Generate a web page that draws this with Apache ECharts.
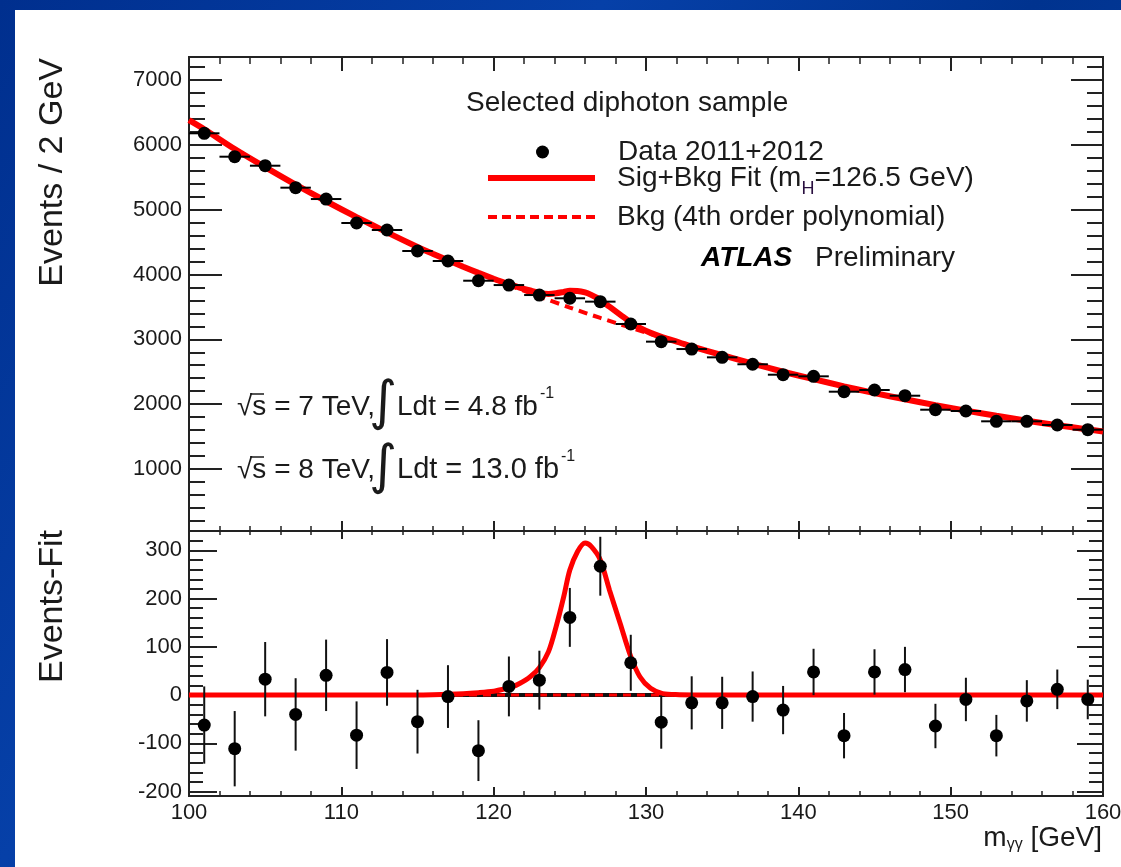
<!DOCTYPE html>
<html>
<head>
<meta charset="utf-8">
<script src="https://cdn.jsdelivr.net/npm/echarts@6/dist/echarts.min.js"></script>
<style>
  html, body { margin: 0; padding: 0; }
  body {
    width: 1121px; height: 867px; overflow: hidden; position: relative;
    background: linear-gradient(125deg, #002f8e 0%, #0640a8 35%, #00338f 60%, #0a44aa 100%);
  }
  #panel { position: absolute; left: 15px; top: 10px; right: 0; bottom: 0; background: #fff; }
  #chart { position: absolute; left: 0; top: 0; width: 1121px; height: 867px; }
</style>
</head>
<body>
<div id="panel"></div>
<div id="chart"></div>
<script>
// ---- data ----
var dataX = [101, 103, 105, 107, 109, 111, 113, 115, 117, 119, 121, 123, 125, 127, 129,
             131, 133, 135, 137, 139, 141, 143, 145, 147, 149, 151, 153, 155, 157, 159];
var dataY = [6178, 5817, 5678, 5339, 5164, 4794, 4686, 4362, 4208, 3904, 3837, 3683, 3633, 3581, 3236,
             2964, 2850, 2722, 2615, 2454, 2429, 2192, 2218, 2130, 1914, 1894, 1735, 1735, 1678, 1606];
var binHalfWidth = 1;

// sig+bkg fit (solid)
var fitX = [100, 101, 103, 105, 107, 109, 111, 113, 115, 116, 118, 119, 120, 120.6, 121.2, 121.7, 122.4,
            123, 123.6, 124.1, 124.6, 125, 125.5, 126, 126.4, 127, 127.6, 128.3, 129, 129.6, 130.3,
            131.1, 132.2, 133, 135, 137, 139, 141, 143, 145, 147, 149, 151, 153, 155, 157, 159, 160];
var fitY = [6380, 6240, 5935, 5655, 5385, 5130, 4885, 4650, 4425, 4321, 4120, 4025, 3935, 3884, 3835, 3799, 3753,
            3717, 3700, 3710, 3731, 3749, 3747, 3725, 3686, 3610, 3503, 3381, 3260, 3175, 3099,
            3031, 2951, 2890, 2755, 2625, 2500, 2385, 2275, 2170, 2075, 1985, 1900, 1820, 1745, 1675, 1610, 1578];

// background only (dashed)
var bkgX = [100, 101, 103, 105, 107, 109, 111, 113, 115, 117, 119, 121, 123, 125, 127, 129, 131,
            133, 135, 137, 139, 141, 143, 145, 147, 149, 151, 153, 155, 157, 159, 160];
var bkgY = [6380, 6240, 5935, 5655, 5385, 5130, 4885, 4650, 4425, 4215, 4020, 3835, 3660, 3490, 3330, 3180, 3030,
            2890, 2755, 2625, 2500, 2385, 2275, 2170, 2075, 1985, 1900, 1820, 1745, 1675, 1610, 1578];

// residuals (Events - Fit) and their errors
var residY = [-62, -111, 33, -40, 41, -83, 47, -55, -3, -115, 18, 31, 161, 267, 67,
              -56, -16, -16, -3, -31, 48, -84, 48, 53, -64, -9, -84, -12, 12, -9];
var residErr = [80, 78, 77, 75, 74, 70, 69, 66, 65, 63, 62, 61, 61, 61, 58,
                55, 55, 54, 52, 50, 48, 47, 47, 47, 46, 45, 43, 43, 41, 41];

// signal component in the residual panel
var sigX = [100, 114, 116, 118, 119, 120, 120.6, 121.2, 121.7, 122.4, 123, 123.6, 124.1, 124.6, 125,
            125.5, 126, 126.4, 127, 127.6, 128.3, 129, 129.6, 130.3, 131.1, 132.2, 134, 160];
var sigY = [0, 0, 1, 3, 5, 8, 12, 17, 24, 38, 57, 90, 142, 204, 259,
            297, 315, 308, 280, 218, 149, 80, 38, 14, 3, 1, 0, 0];

var zeroX = [100, 160];
var zeroY = [0, 0];

// axis ticks
var topMajorTicks = [1000, 2000, 3000, 4000, 5000, 6000, 7000];
var topMinorTicks = [200, 400, 600, 800, 1200, 1400, 1600, 1800, 2200, 2400, 2600, 2800, 3200, 3400, 3600, 3800,
                     4200, 4400, 4600, 4800, 5200, 5400, 5600, 5800, 6200, 6400, 6600, 6800, 7200];
var botMajorTicks = [-200, -100, 0, 100, 200, 300];
var botMinorTicks = [-180, -160, -140, -120, -80, -60, -40, -20, 20, 40, 60, 80, 120, 140, 160, 180,
                     220, 240, 260, 280, 320];

var FONT = '"Liberation Sans", Arial, Helvetica, sans-serif';
var RED = '#ff0000';
var INK = '#1a1a1a';
// legend icon for the dashed background curve
var DASH_ICON = 'path://M0,0H9V4H0Z M14,0H23V4H14Z M28,0H37V4H28Z M42,0H51V4H42Z M56,0H65V4H56Z M70,0H79V4H70Z M84,0H93V4H84Z M98,0H107V4H98Z';

function pairs(xs, ys) { return xs.map(function (x, i) { return [x, ys[i]]; }); }

var chart = echarts.init(document.getElementById('chart'));

var axisLine = { show: true, onZero: false, lineStyle: { color: '#222', width: 2 } };

function xAx(grid, pos, majorLen, minorLen, labels) {
    return {
        type: 'value', gridIndex: grid, position: pos, min: 100, max: 160, interval: 10,
        axisLine: axisLine,
        axisTick: { show: true, inside: true, length: majorLen, lineStyle: { color: '#222', width: 2 } },
        minorTick: { show: true, splitNumber: 5, length: minorLen, lineStyle: { color: '#222', width: 1.5 } },
        axisLabel: { show: labels, fontSize: 22, fontFamily: FONT, color: INK, margin: 6 },
        splitLine: { show: false }
    };
}

function yAx(grid, pos, min, max, ticks, len, labels) {
    return {
        type: 'value', gridIndex: grid, position: pos, min: min, max: max,
        axisLine: axisLine,
        axisTick: { show: true, inside: true, length: len, customValues: ticks, lineStyle: { color: '#222', width: 2 } },
        axisLabel: {
            show: labels, customValues: ticks, fontSize: 22, fontFamily: FONT, color: INK, margin: 7,
            formatter: function (v) { return String(v); }
        },
        splitLine: { show: false }
    };
}

var legendText = { fontSize: 28, fontFamily: FONT, color: INK, padding: [0, 0, 0, 17] };

var option = {
    backgroundColor: 'transparent',
    animation: false,
    grid: [
        { left: 189, top: 57, width: 914, height: 474, outerBoundsMode: 'none' },
        { left: 189, top: 531, width: 914, height: 265, outerBoundsMode: 'none' }
    ],
    xAxis: [
        xAx(0, 'bottom', 10, 5, false),
        xAx(0, 'top', 14, 7, false),
        xAx(1, 'bottom', 9, 5, true),
        xAx(1, 'top', 8, 4, false)
    ],
    yAxis: [
        yAx(0, 'left', 43, 7355, topMajorTicks, 33, true),
        yAx(0, 'left', 43, 7355, topMinorTicks, 16, false),
        yAx(0, 'right', 43, 7355, topMajorTicks, 32, false),
        yAx(0, 'right', 43, 7355, topMinorTicks, 16, false),
        yAx(1, 'left', -209, 340, botMajorTicks, 28, true),
        yAx(1, 'left', -209, 340, botMinorTicks, 14, false),
        yAx(1, 'right', -209, 340, botMajorTicks, 26, false),
        yAx(1, 'right', -209, 340, botMinorTicks, 14, false)
    ],
    legend: [
        {
            data: [{ name: 'Data 2011+2012', icon: 'circle' }], left: 531, top: 133, itemWidth: 107, itemHeight: 13,
            selectedMode: false, textStyle: legendText
        },
        {
            data: [{ name: 'Sig+Bkg Fit', icon: 'rect' }], left: 483, top: 159, itemWidth: 107, itemHeight: 6,
            selectedMode: false,
            formatter: function () { return 'Sig+Bkg Fit (m{sub|H}=126.5 GeV)'; },
            textStyle: {
                fontSize: 28, fontFamily: FONT, color: INK, padding: [0, 0, 0, 17],
                rich: { sub: { fontSize: 18, fontFamily: FONT, color: '#2a1040', verticalAlign: 'bottom', padding: [22, 0, 0, 0] } }
            }
        },
        {
            data: [{ name: 'Bkg (4th order polynomial)', icon: DASH_ICON }], left: 483, top: 198,
            itemWidth: 107, itemHeight: 4, selectedMode: false, textStyle: legendText
        }
    ],
    series: [
        {
            name: 'Bkg (4th order polynomial)', type: 'line', xAxisIndex: 0, yAxisIndex: 0,
            data: pairs(bkgX, bkgY), smooth: 0.3, symbol: 'none', z: 2,
            lineStyle: { color: RED, width: 4, type: [9, 6] }, itemStyle: { color: RED }
        },
        {
            name: 'Sig+Bkg Fit', type: 'line', xAxisIndex: 0, yAxisIndex: 0,
            data: pairs(fitX, fitY), smooth: 0.3, symbol: 'none', z: 3,
            lineStyle: { color: RED, width: 6 }, itemStyle: { color: RED }
        },
        {
            name: 'xerr', type: 'custom', xAxisIndex: 0, yAxisIndex: 0, z: 4,
            data: pairs(dataX, dataY), encode: { x: 0, y: 1 },
            renderItem: function (params, api) {
                var x = api.value(0), y = api.value(1);
                var a = api.coord([x - binHalfWidth, y]), b = api.coord([x + binHalfWidth, y]);
                return { type: 'line', shape: { x1: a[0], y1: a[1], x2: b[0], y2: b[1] }, style: { stroke: '#000', lineWidth: 2 } };
            }
        },
        {
            name: 'Data 2011+2012', type: 'scatter', xAxisIndex: 0, yAxisIndex: 0, z: 5,
            data: pairs(dataX, dataY), symbolSize: 13, itemStyle: { color: '#000', opacity: 1 }
        },
        {
            name: 'zero', type: 'line', xAxisIndex: 2, yAxisIndex: 4, z: 2,
            data: pairs(zeroX, zeroY), symbol: 'none', lineStyle: { color: '#111', width: 4 }
        },
        {
            name: 'bkg0', type: 'line', xAxisIndex: 2, yAxisIndex: 4, z: 2,
            data: pairs(zeroX, zeroY), symbol: 'none', lineStyle: { color: RED, width: 3, type: [8, 6] }
        },
        {
            name: 'signal', type: 'line', xAxisIndex: 2, yAxisIndex: 4, z: 3,
            data: pairs(sigX, sigY), smooth: 0.3, symbol: 'none', lineStyle: { color: RED, width: 5 }
        },
        {
            name: 'yerr', type: 'custom', xAxisIndex: 2, yAxisIndex: 4, z: 4,
            data: dataX.map(function (x, i) { return [x, residY[i], residErr[i]]; }), encode: { x: 0, y: 1 },
            renderItem: function (params, api) {
                var x = api.value(0), y = api.value(1), e = api.value(2);
                var a = api.coord([x, y - e]), b = api.coord([x, y + e]);
                return { type: 'line', shape: { x1: a[0], y1: a[1], x2: b[0], y2: b[1] }, style: { stroke: '#111', lineWidth: 2 } };
            }
        },
        {
            name: 'resid', type: 'scatter', xAxisIndex: 2, yAxisIndex: 4, z: 5,
            data: pairs(dataX, residY), symbolSize: 13, itemStyle: { color: '#000', opacity: 1 }
        }
    ],
    graphic: [
        { type: 'text', x: 466, y: 103, style: { text: 'Selected diphoton sample', fontSize: 28, fontFamily: FONT, fill: INK, verticalAlign: 'middle' } },
        { type: 'text', x: 701, y: 258, style: { text: 'ATLAS', fontSize: 28, fontWeight: 'bold', fontStyle: 'italic', fontFamily: FONT, fill: '#000', verticalAlign: 'middle' } },
        { type: 'text', x: 815, y: 258, style: { text: 'Preliminary', fontSize: 28, fontFamily: FONT, fill: INK, verticalAlign: 'middle' } },

        { type: 'text', x: 237, y: 407, style: { text: '√s = 7 TeV,', fontSize: 28, fontFamily: FONT, fill: INK, verticalAlign: 'middle' } },
        { type: 'line', shape: { x1: 250, y1: 394, x2: 264, y2: 394 }, style: { stroke: INK, lineWidth: 1.5 } },
        { type: 'text', x: 383, y: 405, style: { text: '∫', fontSize: 54, fontFamily: '"DejaVu Sans", sans-serif', fill: INK, align: 'center', verticalAlign: 'middle' } },
        { type: 'text', x: 397, y: 407, style: { text: 'Ldt = 4.8 fb', fontSize: 28, fontFamily: FONT, fill: INK, verticalAlign: 'middle' } },
        { type: 'text', x: 540, y: 394, style: { text: '-1', fontSize: 16, fontFamily: FONT, fill: INK, verticalAlign: 'middle' } },

        { type: 'text', x: 237, y: 470, style: { text: '√s = 8 TeV,', fontSize: 28, fontFamily: FONT, fill: INK, verticalAlign: 'middle' } },
        { type: 'line', shape: { x1: 250, y1: 457, x2: 264, y2: 457 }, style: { stroke: INK, lineWidth: 1.5 } },
        { type: 'text', x: 383, y: 469, style: { text: '∫', fontSize: 54, fontFamily: '"DejaVu Sans", sans-serif', fill: INK, align: 'center', verticalAlign: 'middle' } },
        { type: 'text', x: 397, y: 470, style: { text: 'Ldt = 13.0 fb', fontSize: 29, fontFamily: FONT, fill: INK, verticalAlign: 'middle' } },
        { type: 'text', x: 561, y: 457, style: { text: '-1', fontSize: 16, fontFamily: FONT, fill: INK, verticalAlign: 'middle' } },

        { type: 'text', x: 53, y: 58, rotation: Math.PI / 2, style: { text: 'Events / 2 GeV', fontSize: 34, fontFamily: FONT, fill: INK, align: 'right', verticalAlign: 'middle' } },
        { type: 'text', x: 53, y: 530, rotation: Math.PI / 2, style: { text: 'Events-Fit', fontSize: 34, fontFamily: FONT, fill: INK, align: 'right', verticalAlign: 'middle' } },
        {
            type: 'text', x: 1102, y: 838,
            style: {
                text: '{n|m}{s|γγ}{n| [GeV]}', align: 'right', verticalAlign: 'middle', fill: INK,
                rich: {
                    n: { fontSize: 28, fontFamily: FONT, fill: INK },
                    s: { fontSize: 16, fontFamily: FONT, fill: INK, verticalAlign: 'bottom', padding: [14, 0, 0, 0] }
                }
            }
        }
    ]
};

chart.setOption(option);
window.addEventListener('resize', function () { chart.resize(); });
</script>
</body>
</html>
